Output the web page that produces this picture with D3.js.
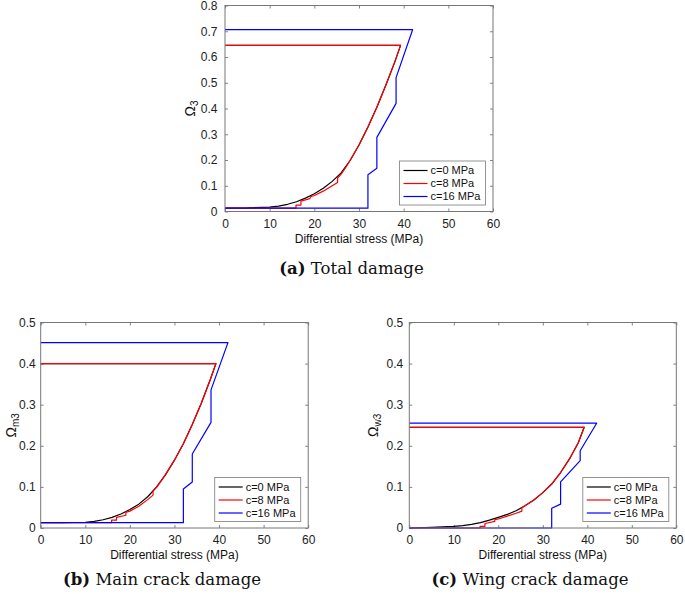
<!DOCTYPE html>
<html><head><meta charset="utf-8">
<script src="https://cdn.jsdelivr.net/npm/d3@7"></script>
<style>body{margin:0;background:#fff}svg{display:block}</style>
</head><body>
<svg id="chart" width="685" height="594"></svg>
<script>
// ---------- data ----------
const xTicks = [0, 10, 20, 30, 40, 50, 60];
const yTicksTotal = [0, 0.1, 0.2, 0.3, 0.4, 0.5, 0.6, 0.7, 0.8];
const yTicksPart = [0, 0.1, 0.2, 0.3, 0.4, 0.5];
const legendLabels = ["c=0 MPa", "c=8 MPa", "c=16 MPa"];
const xTitle = "Differential stress (MPa)";

// c = 0 MPa (black): stress and damage
const stressC0 = [0, 5, 10, 12, 14, 16, 18, 20, 22, 24, 26, 28, 30, 32, 34, 36, 38, 39.3, 0];
const totalC0  = [0.013, 0.014, 0.017, 0.021, 0.028, 0.038, 0.052, 0.069, 0.09, 0.117, 0.15, 0.198, 0.258, 0.328, 0.405, 0.49, 0.58, 0.645, 0.645];
const mainC0   = [0.013, 0.013, 0.014, 0.016, 0.02, 0.026, 0.034, 0.045, 0.058, 0.076, 0.1, 0.13, 0.165, 0.205, 0.252, 0.303, 0.36, 0.4, 0.4];
const wingC0   = [0, 0.0015, 0.004, 0.006, 0.009, 0.013, 0.019, 0.026, 0.033, 0.042, 0.054, 0.068, 0.086, 0.107, 0.135, 0.168, 0.208, 0.245, 0.245];

// c = 8 MPa (red)
const stressC8Total = [0, 15.9, 15.9, 17, 17, 19, 19.2, 20, 22, 24, 25.2, 25.2, 26, 27, 28, 30, 32, 34, 36, 38, 39.3, 0];
const totalC8       = [0.013, 0.013, 0.025, 0.025, 0.04, 0.05, 0.058, 0.062, 0.079, 0.1, 0.113, 0.13, 0.145, 0.17, 0.198, 0.258, 0.328, 0.405, 0.49, 0.58, 0.645, 0.645];
const stressC8Main  = [0, 15.9, 15.9, 17, 17, 19.1, 19.1, 20, 22, 24, 25.2, 25.2, 26, 28, 30, 32, 34, 36, 38, 39.3, 0];
const mainC8        = [0.013, 0.013, 0.019, 0.019, 0.026, 0.031, 0.038, 0.041, 0.053, 0.069, 0.08, 0.09, 0.099, 0.13, 0.165, 0.205, 0.252, 0.303, 0.36, 0.4, 0.4];
const stressC8Wing  = [0, 15.9, 15.9, 17, 17, 19.2, 19.2, 20, 22, 24, 25.3, 25.3, 26, 28, 30, 32, 34, 36, 38, 39.3, 0];
const wingC8        = [0, 0, 0.004, 0.004, 0.011, 0.016, 0.02, 0.022, 0.029, 0.036, 0.041, 0.049, 0.054, 0.068, 0.086, 0.107, 0.135, 0.168, 0.208, 0.245, 0.245];

// c = 16 MPa (blue)
const stressC16Total = [0, 32, 32, 34, 34, 38.3, 38.3, 42, 0];
const totalC16       = [0.013, 0.013, 0.143, 0.168, 0.288, 0.42, 0.52, 0.706, 0.706];
const stressC16Main  = [0, 32, 32, 34, 34, 38.2, 38.2, 42, 0];
const mainC16        = [0.013, 0.013, 0.095, 0.112, 0.18, 0.257, 0.336, 0.451, 0.451];
const stressC16Wing  = [0, 32, 32, 34, 34, 38.4, 38.4, 42.1, 0];
const wingC16        = [0, 0, 0.048, 0.058, 0.112, 0.164, 0.188, 0.255, 0.255];

const seriesColors = ["#000000", "#ff0000", "#0000ff"];

// ---------- layout ----------
const panels = [
  { left: 225, top: 5.5, width: 268, height: 206, yMax: 0.8, yTicks: yTicksTotal,
    sub: "3", ylabX: 190, ylabPad: 7.5,
    captionBold: "(a)", caption: " Total damage", capX: 351.5, capY: 273.5,
    series: [[stressC0, totalC0], [stressC8Total, totalC8], [stressC16Total, totalC16]] },
  { left: 40.7, top: 322.5, width: 267.5, height: 205.5, yMax: 0.5, yTicks: yTicksPart,
    sub: "m3", ylabX: 11, ylabPad: 5,
    captionBold: "(b)", caption: " Main crack damage", capX: 162, capY: 585,
    series: [[stressC0, mainC0], [stressC8Main, mainC8], [stressC16Main, mainC16]] },
  { left: 409.3, top: 322.5, width: 267, height: 205.5, yMax: 0.5, yTicks: yTicksPart,
    sub: "w3", ylabX: 373, ylabPad: 6,
    captionBold: "(c)", caption: " Wing crack damage", capX: 530, capY: 585,
    series: [[stressC0, wingC0], [stressC8Wing, wingC8], [stressC16Wing, wingC16]] }
];

const svg = d3.select("#chart");
const font = "'Liberation Sans', Arial, Helvetica, sans-serif";
const axisColor = "#777";
const yFmt = d => d === 0 ? "0" : d.toFixed(1);

panels.forEach(p => {
  const g = svg.append("g").attr("transform", `translate(${p.left},${p.top})`);
  const x = d3.scaleLinear().domain([0, 60]).range([0, p.width]);
  const y = d3.scaleLinear().domain([0, p.yMax]).range([p.height, 0]);

  const styleAxis = sel => {
    sel.select(".domain").remove();
    sel.selectAll(".tick line").attr("stroke", axisColor).attr("stroke-width", 0.9);
    sel.selectAll(".tick text").attr("fill", "#222").style("font-family", font).style("font-size", "12px");
  };
  g.append("g").attr("transform", `translate(0,${p.height})`)
    .call(d3.axisBottom(x).tickValues(xTicks).tickSizeInner(-3).tickSizeOuter(0).tickPadding(7.5))
    .call(styleAxis);
  g.append("g")
    .call(d3.axisTop(x).tickValues(xTicks).tickSizeInner(-3).tickSizeOuter(0).tickFormat(""))
    .call(styleAxis);
  g.append("g")
    .call(d3.axisLeft(y).tickValues(p.yTicks).tickFormat(yFmt).tickSizeInner(-3).tickSizeOuter(0).tickPadding(p.ylabPad))
    .call(styleAxis);
  g.append("g").attr("transform", `translate(${p.width},0)`)
    .call(d3.axisRight(y).tickValues(p.yTicks).tickSizeInner(-3).tickSizeOuter(0).tickFormat(""))
    .call(styleAxis);

  const line = d3.line().x(d => x(d[0])).y(d => y(d[1]));
  p.series.forEach((s, i) => {
    const pts = s[0].map((v, k) => [v, s[1][k]]);
    g.append("path").datum(pts).attr("d", line)
      .attr("fill", "none").attr("stroke", seriesColors[i])
      .attr("stroke-width", 1.2).attr("stroke-linejoin", "round");
  });

  g.append("rect").attr("x", 0).attr("y", 0).attr("width", p.width).attr("height", p.height)
    .attr("fill", "none").attr("stroke", axisColor).attr("stroke-width", 1);

  const lw = 86, lh = 44;
  const lg = g.append("g").attr("transform", `translate(${p.width - 7.5 - lw},${p.height - 6.5 - lh})`);
  lg.append("rect").attr("width", lw).attr("height", lh).attr("fill", "#fff")
    .attr("stroke", "#888").attr("stroke-width", 0.9);
  legendLabels.forEach((lab, i) => {
    const yy = 9.5 + i * 13;
    lg.append("line").attr("x1", 4).attr("x2", 28).attr("y1", yy).attr("y2", yy)
      .attr("stroke", seriesColors[i]).attr("stroke-width", 1.2);
    lg.append("text").attr("x", 31).attr("y", yy).attr("dy", "0.35em")
      .style("font-family", font).style("font-size", "11px").attr("fill", "#111").text(lab);
  });

  svg.append("text").attr("x", p.left + p.width / 2).attr("y", p.top + p.height + 31)
    .attr("text-anchor", "middle").style("font-family", font).style("font-size", "12px")
    .attr("fill", "#111").text(xTitle);

  const yt = svg.append("text")
    .attr("transform", `translate(${p.ylabX},${p.top + p.height / 2}) rotate(-90)`)
    .attr("text-anchor", "middle").style("font-family", font).attr("fill", "#111");
  yt.append("tspan").style("font-size", "14px").attr("dy", "0.35em").text("Ω");
  yt.append("tspan").style("font-size", "10px").attr("dy", "3").text(p.sub);

  const cap = svg.append("text").attr("x", p.capX).attr("y", p.capY)
    .attr("text-anchor", "middle").style("font-family", "'DejaVu Serif', serif")
    .style("font-size", "16.5px").attr("fill", "#111");
  cap.append("tspan").style("font-weight", "bold").text(p.captionBold);
  cap.append("tspan").text(p.caption);
});
</script>
</body></html>
